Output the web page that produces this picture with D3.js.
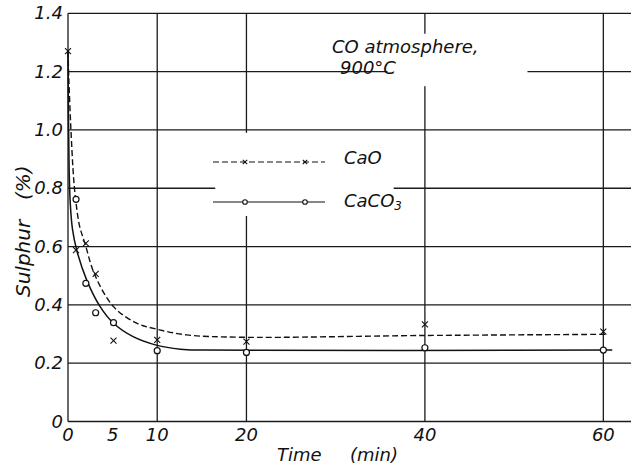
<html>
<head>
<script src="https://d3js.org/d3.v7.min.js"></script>
<style>
body { margin: 0; background: #fff; }
svg { display: block; }
text { font-family: 'DejaVu Sans', sans-serif; font-style: italic; fill: #111; }
text.tick { font-size: 18px; }
.grid line { stroke: #1a1a1a; stroke-width: 1.3; }
</style>
</head>
<body>
<div id="plot"></div>
<script>
var width = 631;
var height = 468;

// measured points
var timeCaO = [0, 0.9, 2, 3.1, 5.1, 10, 20, 40, 60];
var sulphurCaO = [1.27, 0.588, 0.611, 0.506, 0.277, 0.28, 0.274, 0.333, 0.308];
var timeCaCO3 = [0.9, 2, 3.1, 5.1, 10, 20, 40, 60];
var sulphurCaCO3 = [0.762, 0.474, 0.373, 0.339, 0.243, 0.237, 0.253, 0.245];

// hand drawn curves
var curveTimeCaO = [0, 0.1, 0.33, 0.64, 0.9, 1.3, 1.9, 3.0, 5.1, 7.7, 9.9, 13.3, 19.3, 40, 60.4];
var curveSulphurCaO = [1.27, 1.17, 1.0, 0.83, 0.75, 0.67, 0.611, 0.503, 0.394, 0.337, 0.317, 0.297, 0.289, 0.295, 0.299];
var curveTimeCaCO3 = [0, 0.05, 0.12, 0.25, 0.5, 1.0, 2.1, 3.6, 5.1, 7.3, 9.9, 12.6, 15, 61];
var curveSulphurCaCO3 = [1.27, 1.05, 0.88, 0.75, 0.66, 0.585, 0.485, 0.394, 0.337, 0.291, 0.262, 0.248, 0.245, 0.245];

var xTicks = [0, 5, 10, 20, 40, 60];
var xGrid = [0, 10, 20, 40, 60];
var yTicks = [0, 0.2, 0.4, 0.6, 0.8, 1.0, 1.2, 1.4];
var yLabels = ["0", "0.2", "0.4", "0.6", "0.8", "1.0", "1.2", "1.4"];

var xScale = d3.scaleLinear().domain([0, 63.1]).range([68, 631]);
var yScale = d3.scaleLinear().domain([0, 1.4]).range([421.5, 13.3]);

var svg = d3.select("#plot").append("svg")
  .attr("width", width).attr("height", height);

var grid = svg.append("g").attr("class", "grid");

grid.selectAll("line.h").data(yTicks).enter()
  .append("line").attr("class", "h")
  .attr("x1", xScale(0)).attr("x2", xScale(63.1))
  .attr("y1", d => yScale(d)).attr("y2", d => yScale(d));

grid.selectAll("line.v").data(xGrid).enter()
  .append("line").attr("class", "v")
  .attr("x1", d => xScale(d)).attr("x2", d => xScale(d))
  .attr("y1", yScale(0)).attr("y2", yScale(1.4));

// gaps in the grid behind the note and the legend
svg.append("rect")
  .attr("x", xScale(35.8)).attr("width", xScale(51.5) - xScale(35.8))
  .attr("y", yScale(1.33)).attr("height", yScale(1.15) - yScale(1.33))
  .style("fill", "#fff");
svg.append("rect")
  .attr("x", xScale(16.5)).attr("width", xScale(36.5) - xScale(16.5))
  .attr("y", yScale(0.99)).attr("height", yScale(0.705) - yScale(0.99))
  .style("fill", "#fff");

var line = d3.line()
  .x(d => xScale(d[0])).y(d => yScale(d[1]))
  .curve(d3.curveCatmullRom.alpha(0.5));

svg.append("path")
  .datum(d3.zip(curveTimeCaO, curveSulphurCaO))
  .attr("d", line)
  .style("fill", "none").style("stroke", "#111")
  .style("stroke-width", 1.4).style("stroke-dasharray", "6,3");

svg.append("path")
  .datum(d3.zip(curveTimeCaCO3, curveSulphurCaCO3))
  .attr("d", line)
  .style("fill", "none").style("stroke", "#111")
  .style("stroke-width", 1.5);

function cross(sel, s) {
  sel.append("path")
    .attr("d", "M" + (-s) + "," + (-s) + "L" + s + "," + s + "M" + (-s) + "," + s + "L" + s + "," + (-s))
    .style("stroke", "#111").style("stroke-width", 1.1);
}

var crosses = svg.selectAll("g.cao").data(d3.zip(timeCaO, sulphurCaO)).enter()
  .append("g").attr("class", "cao")
  .attr("transform", d => "translate(" + xScale(d[0]) + "," + yScale(d[1]) + ")");
cross(crosses, 3);

svg.selectAll("circle.caco3").data(d3.zip(timeCaCO3, sulphurCaCO3)).enter()
  .append("circle").attr("class", "caco3")
  .attr("cx", d => xScale(d[0])).attr("cy", d => yScale(d[1]))
  .attr("r", 3)
  .style("fill", "#fff").style("stroke", "#111").style("stroke-width", 1.2);

// tick labels
svg.selectAll("text.ytick").data(yTicks).enter()
  .append("text").attr("class", "tick")
  .attr("x", 63).attr("y", d => yScale(d) + 6)
  .attr("text-anchor", "end")
  .text((d, i) => yLabels[i]);

svg.selectAll("text.xtick").data(xTicks).enter()
  .append("text").attr("class", "tick")
  .attr("x", d => xScale(d)).attr("y", 441)
  .attr("text-anchor", "middle")
  .text(d => d);

// axis titles
svg.append("text").attr("x", 277).attr("y", 461)
  .style("font-size", "18px").text("Time");
svg.append("text").attr("x", 350).attr("y", 461)
  .style("font-size", "18px").text("(min)");

svg.append("text")
  .attr("transform", "translate(30,297) rotate(-90)")
  .style("font-size", "20px").text("Sulphur");
svg.append("text")
  .attr("transform", "translate(30,200) rotate(-90)")
  .style("font-size", "20px").text("(%)");

// note
svg.append("text").attr("x", 332).attr("y", 53)
  .style("font-size", "18px").text("CO atmosphere,");
svg.append("text").attr("x", 340).attr("y", 74)
  .style("font-size", "18px").text("900°C");

// legend
var legend = svg.append("g");
legend.append("line")
  .attr("x1", 213).attr("x2", 325).attr("y1", 162).attr("y2", 162)
  .style("stroke", "#111").style("stroke-width", 1.2).style("stroke-dasharray", "6,3");
legend.append("line")
  .attr("x1", 213).attr("x2", 325).attr("y1", 202).attr("y2", 202)
  .style("stroke", "#111").style("stroke-width", 1.2);
[245, 305].forEach(function (x) {
  cross(legend.append("g").attr("transform", "translate(" + x + ",162)"), 2.2);
  legend.append("circle").attr("cx", x).attr("cy", 202).attr("r", 2.3)
    .style("fill", "#fff").style("stroke", "#111").style("stroke-width", 1.1);
});
legend.append("text").attr("x", 344).attr("y", 164)
  .style("font-size", "18px").text("CaO");
var t = legend.append("text").attr("x", 344).attr("y", 207)
  .style("font-size", "18px").text("CaCO");
t.append("tspan").attr("dy", 3).style("font-size", "12px").text("3");
</script>
</body>
</html>
